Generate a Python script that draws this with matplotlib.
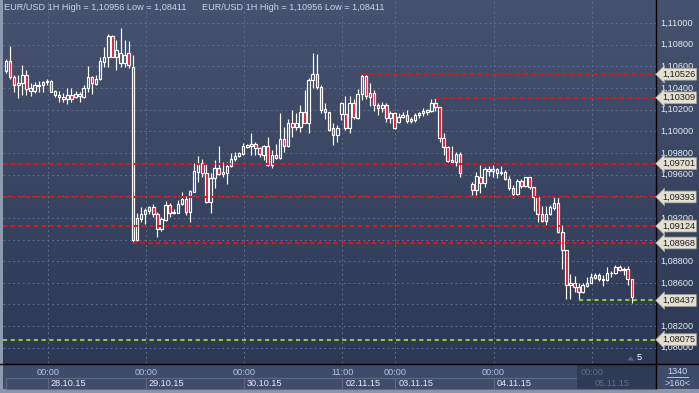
import numpy as np
import matplotlib
matplotlib.use("Agg")
import matplotlib.pyplot as plt
from matplotlib.patches import Rectangle, Polygon
from matplotlib.colors import LinearSegmentedColormap
import matplotlib.transforms as mtransforms

plt.rcParams['font.family'] = ['Liberation Sans', 'DejaVu Sans']

nan = float('nan')

# ---------------- data (EUR/USD, 1H candles) ----------------
opens = [1.10559, 1.10649, 1.10498, 1.10424, 1.10443, 1.10519, 1.10374, 1.10374, 1.10418, 1.10424,
         1.10452, 1.10464, 1.10372, 1.10335, 1.10313, 1.10301, 1.10332, 1.10313, 1.10344, 1.10313,
         1.10397, 1.10498, 1.10436, 1.10480, 1.10642, 1.10688, 1.10880, 1.10686, 1.10627, 1.10627,
         1.10720, 1.10591, 1.09000, 1.09187, 1.09233, 1.09266, 1.09298, 1.09233, 1.09094, 1.09180,
         1.09316, 1.09242, 1.09248, 1.09328, 1.09371, 1.09257, 1.09442, 1.09626, 1.09710, 1.09612,
         1.09349, 1.09566, 1.09658, 1.09624, 1.09617, 1.09679, 1.09741, 1.09771, 1.09790, 1.09857,
         1.09867, 1.09882, 1.09843, 1.09781, 1.09864, 1.09688, 1.09781, 1.09750, 1.09926, 1.09864,
         1.10073, 1.10036, 1.10036, 1.10178, 1.10079, 1.10473, 1.10526, 1.10411, 1.10203, 1.10175,
         1.10027, 1.09965, 1.10159, 1.10159, 1.10027, 1.10264, 1.10120, 1.10341, 1.10510, 1.10356,
         1.10356, 1.10242, 1.10212, 1.10242, 1.10120, 1.10171, 1.10088, 1.10150, 1.10150, 1.10110,
         1.10104, 1.10147, 1.10166, 1.10181, 1.10190, 1.10264, 1.10221, 1.09935, 1.09852, 1.09734,
         1.09719, 1.09790, nan, nan, 1.09510, 1.09457, 1.09580, 1.09519, 1.09630, 1.09630,
         1.09649, 1.09617, 1.09624, 1.09562, 1.09473, 1.09420, 1.09543, 1.09494, 1.09575, 1.09482,
         1.09396, 1.09236, 1.09174, 1.09236, 1.09288, 1.09340, 1.09074, 1.08903, 1.08580, 1.08601,
         1.08564, 1.08518, 1.08571, 1.08601, 1.08648, 1.08672, 1.08633, 1.08626, 1.08688, 1.08694,
         1.08749, 1.08718, 1.08724, 1.08633]
highs = [1.10664, 1.10787, 1.10519, 1.10519, 1.10612, 1.10566, 1.10443, 1.10458, 1.10467, 1.10464,
         1.10480, 1.10473, 1.10381, 1.10374, 1.10356, 1.10397, 1.10397, 1.10372, 1.10365, 1.10427,
         1.10603, 1.10510, 1.10519, 1.10688, 1.10781, 1.10898, 1.10889, 1.10843, 1.10956, 1.10843,
         1.10836, 1.10704, 1.09248, 1.09298, 1.09288, 1.09310, 1.09328, 1.09257, 1.09211, 1.09356,
         1.09337, 1.09282, 1.09365, 1.09442, 1.09402, 1.09457, 1.09710, 1.09771, 1.09741, 1.09704,
         1.09612, 1.09734, 1.09864, 1.09719, 1.09719, 1.09802, 1.09811, 1.09808, 1.09889, 1.09882,
         1.09981, 1.09903, 1.09857, 1.09873, 1.09944, 1.09827, 1.09882, 1.10171, 1.10036, 1.10110,
         1.10196, 1.10171, 1.10242, 1.10381, 1.10489, 1.10725, 1.10713, 1.10427, 1.10258, 1.10178,
         1.10079, 1.10058, 1.10273, 1.10325, 1.10325, 1.10295, 1.10387, 1.10526, 1.10515, 1.10448,
         1.10381, 1.10264, 1.10273, 1.10264, 1.10190, 1.10181, 1.10166, 1.10181, 1.10196, 1.10134,
         1.10166, 1.10181, 1.10212, 1.10203, 1.10295, 1.10309, 1.10227, 1.09987, 1.09864, 1.09864,
         1.09811, 1.09811, nan, nan, 1.09534, 1.09626, 1.09688, 1.09673, 1.09679, 1.09688,
         1.09658, 1.09679, 1.09642, 1.09587, 1.09504, 1.09556, 1.09556, 1.09580, 1.09580, 1.09488,
         1.09402, 1.09310, 1.09310, 1.09319, 1.09390, 1.09393, 1.09134, 1.08903, 1.08682, 1.08663,
         1.08596, 1.08598, 1.08657, 1.08688, 1.08694, 1.08688, 1.08672, 1.08743, 1.08712, 1.08765,
         1.08765, 1.08743, 1.08755, 1.08633]
lows = [1.10538, 1.10482, 1.10365, 1.10307, 1.10335, 1.10335, 1.10325, 1.10350, 1.10365, 1.10362,
        1.10427, 1.10360, 1.10319, 1.10273, 1.10273, 1.10249, 1.10273, 1.10307, 1.10273, 1.10304,
        1.10365, 1.10344, 1.10424, 1.10473, 1.10596, 1.10596, 1.10683, 1.10566, 1.10596, 1.10596,
        1.10581, 1.08968, 1.08982, 1.09165, 1.09143, 1.09233, 1.09211, 1.09021, 1.09079, 1.09174,
        1.09211, 1.09236, 1.09245, 1.09316, 1.09227, 1.09165, 1.09436, 1.09534, 1.09580, 1.09340,
        1.09248, 1.09473, 1.09596, 1.09580, 1.09513, 1.09673, 1.09728, 1.09762, 1.09780, 1.09845,
        1.09780, 1.09780, 1.09759, 1.09734, 1.09679, 1.09658, 1.09741, 1.09741, 1.09811, 1.09852,
        1.09950, 1.10011, 1.09996, 1.10073, 1.09987, 1.10397, 1.10387, 1.10166, 1.10110, 1.10002,
        1.09870, 1.09903, 1.10104, 1.10011, 1.09987, 1.10110, 1.10110, 1.10289, 1.10295, 1.10233,
        1.10190, 1.10150, 1.10181, 1.10088, 1.10073, 1.10021, 1.10079, 1.10120, 1.10079, 1.10073,
        1.10085, 1.10120, 1.10141, 1.10150, 1.10181, 1.10190, 1.09903, 1.09781, 1.09719, 1.09710,
        1.09679, 1.09575, nan, nan, 1.09411, 1.09411, 1.09432, 1.09482, 1.09587, 1.09580,
        1.09566, 1.09596, 1.09549, 1.09457, 1.09381, 1.09411, 1.09473, 1.09488, 1.09464, 1.09266,
        1.09165, 1.09165, 1.09134, 1.09227, 1.09272, 1.09060, 1.08725, 1.08448, 1.08448, 1.08518,
        1.08437, 1.08506, 1.08559, 1.08596, 1.08633, 1.08620, 1.08571, 1.08620, 1.08651, 1.08682,
        1.08712, 1.08672, 1.08580, 1.08411]
closes = [1.10649, 1.10498, 1.10424, 1.10443, 1.10519, 1.10387, 1.10397, 1.10424, 1.10424, 1.10452,
          1.10464, 1.10365, 1.10335, 1.10313, 1.10301, 1.10332, 1.10301, 1.10344, 1.10325, 1.10397,
          1.10498, 1.10443, 1.10480, 1.10649, 1.10688, 1.10880, 1.10688, 1.10750, 1.10720, 1.10704,
          1.10612, 1.08995, 1.09196, 1.09233, 1.09272, 1.09298, 1.09233, 1.09094, 1.09187, 1.09316,
          1.09242, 1.09254, 1.09328, 1.09371, 1.09257, 1.09451, 1.09633, 1.09710, 1.09612, 1.09349,
          1.09566, 1.09658, 1.09605, 1.09605, 1.09679, 1.09741, 1.09771, 1.09796, 1.09864, 1.09873,
          1.09879, 1.09843, 1.09790, 1.09864, 1.09688, 1.09781, 1.09750, 1.09926, 1.09864, 1.10073,
          1.10036, 1.10079, 1.10178, 1.10079, 1.10473, 1.10526, 1.10411, 1.10196, 1.10175, 1.10011,
          1.09965, 1.10027, 1.10258, 1.10027, 1.10264, 1.10129, 1.10344, 1.10510, 1.10325, 1.10319,
          1.10242, 1.10212, 1.10242, 1.10120, 1.10171, 1.10027, 1.10129, 1.10129, 1.10095, 1.10097,
          1.10150, 1.10166, 1.10190, 1.10196, 1.10264, 1.10221, 1.09935, 1.09852, 1.09728, 1.09719,
          1.09790, 1.09612, nan, nan, 1.09457, 1.09587, 1.09519, 1.09649, 1.09649, 1.09649,
          1.09617, 1.09624, 1.09562, 1.09473, 1.09420, 1.09543, 1.09494, 1.09575, 1.09482, 1.09396,
          1.09236, 1.09174, 1.09236, 1.09298, 1.09340, 1.09074, 1.08903, 1.08580, 1.08601, 1.08559,
          1.08518, 1.08580, 1.08601, 1.08657, 1.08672, 1.08633, 1.08624, 1.08694, 1.08694, 1.08749,
          1.08718, 1.08724, 1.08633, 1.08472]

red_levels = [1.10526, 1.10309, 1.09701, 1.09393, 1.09124, 1.08968]
red_level_start = [87, 105, None, None, None, 31]
green_levels = [1.08437, 1.08075]
green_level_start = [140, None]

grid_ticks = [1.11000, 1.10800, 1.10600, 1.10400, 1.10200, 1.10000, 1.09800, 1.09600,
              1.09400, 1.09200, 1.09000, 1.08800, 1.08600, 1.08400, 1.08200, 1.08000]
# labels that are visible (the others are hidden behind level tags)
label_ticks = [1.11000, 1.10800, 1.10600, 1.10400, 1.10200, 1.10000, 1.09800, 1.09600,
               1.09200, 1.08800, 1.08600, 1.08200, 1.08000]
label_texts = ["1,11000", "1,10800", "1,10600", "1,10400", "1,10200", "1,10000", "1,09800", "1,09600",
               "1,09200", "1,08800", "1,08600", "1,08200", "1,08000"]

day_idx = [10, 34, 58, 82, 95, 119, 143]
time_labels = ["00:00", "00:00", "00:00", "11:00", "00:00", "00:00", "00:00"]
date_labels = ["28.10.15", "29.10.15", "30.10.15", "02.11.15", "03.11.15", "04.11.15", "05.11.15"]

title = "EUR/USD 1H High = 1,10956 Low = 1,08411"
counter_top = "1340"
counter_bottom = ">160<"
marker_label = "5"

# ---------------- figure ----------------
W, H = 699, 393
fig = plt.figure(figsize=(W / 100, H / 100), dpi=100)

bg = fig.add_axes([0, 0, 1, 1])
bg.set_xlim(0, W)
bg.set_ylim(H, 0)
bg.axis('off')
cmap = LinearSegmentedColormap.from_list('bgc', ['#46526e', '#2b3652'])
bg.imshow(np.linspace(0, 1, 256).reshape(-1, 1), extent=[0, W, H, 0],
          cmap=cmap, aspect='auto', zorder=0)

# time strip
bg.add_patch(Rectangle((0, 363.5), W, 25, fc='#3f4c69', ec='none', zorder=1))
bg.add_patch(Rectangle((0, 388.5), W, 5, fc='#8b95a8', ec='none', zorder=1))
bg.add_patch(Rectangle((0, 0), 2.5, 388.5, fc='#8e9ab0', ec='none', zorder=1))

# plot axes
PX0, PX1, PY1 = 3, 656, 363
ax = fig.add_axes([PX0 / W, (H - PY1) / H, (PX1 - PX0) / W, PY1 / H])
ax.set_facecolor('none')
ax.axis('off')
step = 4.09
ax.set_xlim((PX0 - 6) / step, (PX1 - 6) / step)
ax.set_ylim(1.078597, 1.11212)

grid_kw = dict(color='#5d6d8d', lw=0.7, ls=(0, (2, 3)), zorder=1)
for t in grid_ticks:
    ax.axhline(t, **grid_kw)
for d in day_idx:
    ax.axvline(d + 0.2, **grid_kw)

# candles
bw = 0.62
for i, (o, h, l, c) in enumerate(zip(opens, highs, lows, closes)):
    if np.isnan(o):
        continue
    top, bot = max(o, c), min(o, c)
    ax.vlines(i, top, h, color='white', lw=0.85, zorder=4)
    ax.vlines(i, l, bot, color='white', lw=0.85, zorder=4)
    fc = '#ee0f2a' if c < o else 'none'
    ax.add_patch(Rectangle((i - bw / 2, bot), bw, max(top - bot, 0.00002),
                           fc=fc, ec='white', lw=0.85, zorder=5))

xmax = ax.get_xlim()[1]
xmin = ax.get_xlim()[0]
for lv, st in zip(red_levels, red_level_start):
    x0 = xmin if st is None else st
    ax.plot([x0, xmax], [lv, lv], color='#e4101c', lw=1.5, ls=(0, (2.0, 1.7)), zorder=6,
            dash_capstyle='butt')
for lv, st in zip(green_levels, green_level_start):
    x0 = xmin if st is None else st
    ax.plot([x0, xmax], [lv, lv], color='#8ec63f', lw=1.5, ls=(0, (2.0, 1.7)), zorder=6,
            dash_capstyle='butt')

# price scale
ytr = ax.get_yaxis_transform()
lab_x = 1 + (660 - PX1) / (PX1 - PX0)
for t, s in zip(label_ticks, label_texts):
    ax.text(lab_x, t, s, transform=ytr, ha='left', va='center', fontsize=6.6,
            color='#e6ebf3', clip_on=False, zorder=7)
tag_x = 1 + (662 - PX1) / (PX1 - PX0)
for lv in red_levels + green_levels:
    ax.text(tag_x, lv, f"{lv:.5f}".replace('.', ','), transform=ytr, ha='left', va='center',
            fontsize=6.6, color='#1c1c1c', clip_on=False, zorder=9,
            bbox=dict(boxstyle='larrow,pad=0.15', fc='#e3e0d1', ec='#a9a596', lw=0.5))

# black separators
bg.plot([656, 656], [0, H - 5], color='black', lw=1.0, zorder=3)
fig.add_artist(plt.Line2D([0, 1], [(H - 363.5) / H] * 2, color='black', lw=1.0))

# time axis
tr = mtransforms.blended_transform_factory(ax.transData, bg.transData)
edges = [0] + [d + 0.2 for d in day_idx] + [xmax]
for k in range(len(edges) - 1):
    bg.add_patch(Rectangle((edges[k], 377.5), edges[k + 1] - edges[k], 11, transform=tr,
                           fc='#3f4d6a', ec='#5b6a86', lw=0.8, zorder=2, clip_on=False))
bg.add_patch(Rectangle((577, 364), 79, 24.5, fc='#2e3a53', ec='none', zorder=2.5, alpha=0.92))
tr_off = mtransforms.offset_copy(tr, fig=fig, x=3, y=0, units='dots')
for k, (d, tl, dl) in enumerate(zip(day_idx, time_labels, date_labels)):
    future = k == len(day_idx) - 1
    bg.text(d + 0.2, 372.5, tl, transform=tr, ha='center', va='center', fontsize=6.6,
            color='#5e6e8a' if future else '#a9c8ee', zorder=4)
    bg.text(d + 0.2, 383.5, dl, transform=tr_off, ha='left', va='center', fontsize=6.6,
            color='#5e6e8a' if future else '#e8eef8', zorder=4)

# title
for xt in (4, 202):
    bg.text(xt, 8, title, ha='left', va='center', fontsize=6.6, color='#c6d7ec', zorder=8)

# marker "5"
bg.add_patch(Polygon([(627, 360.5), (634, 360.5), (630.5, 356.5)], closed=True,
                     fc='#5d6983', ec='none', zorder=8))
bg.text(637, 358, marker_label, ha='left', va='center', fontsize=6.6, color='white', zorder=8)

# counter box
bg.text(677.5, 371.5, counter_top, ha='center', va='center', fontsize=6.6, color='#c9d7ee', zorder=8)
bg.plot([667, 688], [377.3, 377.3], color='#c9d7ee', lw=0.6, zorder=8)
bg.text(677.5, 384, counter_bottom, ha='center', va='center', fontsize=6.6, color='#c9d7ee', zorder=8)

fig.savefig('out.png', dpi=100)
